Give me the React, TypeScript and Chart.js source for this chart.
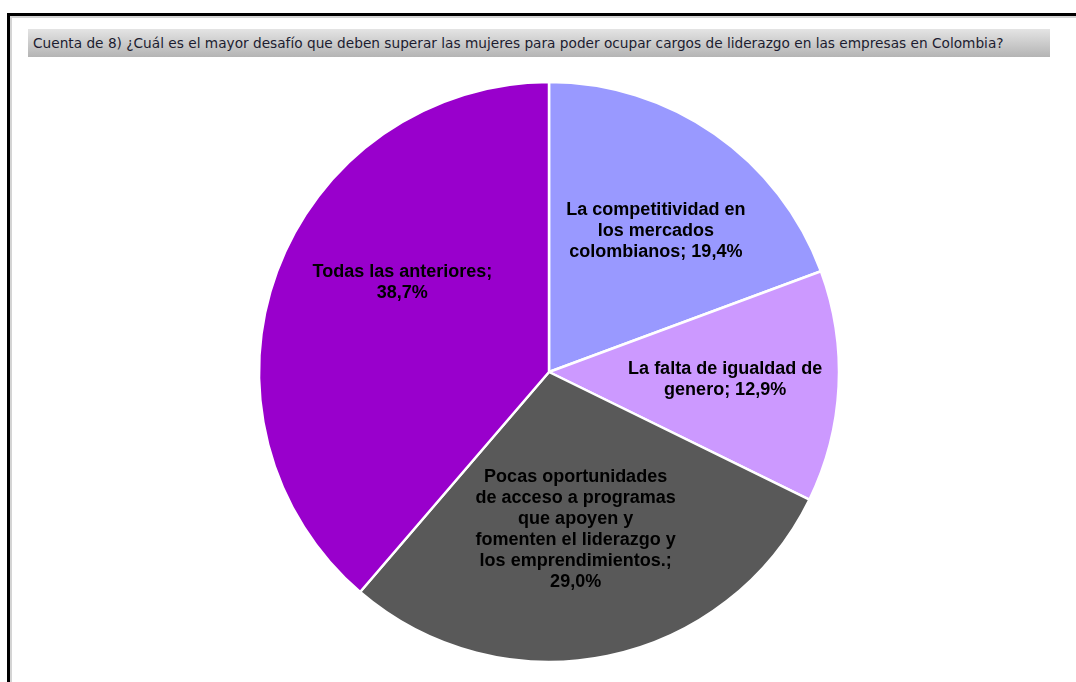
import React, { useEffect, useRef } from "react";
import { Chart, registerables } from "chart.js";

Chart.register(...registerables);

const TITLE =
  "Cuenta de 8) ¿Cuál es el mayor desafío que deben superar las mujeres para poder ocupar cargos de liderazgo en las empresas en Colombia?";

const categories = [
  "La competitividad en los mercados colombianos",
  "La falta de igualdad de genero",
  "Pocas oportunidades de acceso a programas que apoyen y fomenten el liderazgo y los emprendimientos.",
  "Todas las anteriores",
];
const counts = [6, 4, 9, 12];
const percentLabels = ["19,4%", "12,9%", "29,0%", "38,7%"];
const labelLines = [
  ["La competitividad en", "los mercados", "colombianos; 19,4%"],
  ["La falta de igualdad de", "genero; 12,9%"],
  [
    "Pocas oportunidades",
    "de acceso a programas",
    "que apoyen y",
    "fomenten el liderazgo y",
    "los emprendimientos.;",
    "29,0%",
  ],
  ["Todas las anteriores;", "38,7%"],
];
const sliceColors = ["#9999FF", "#CC99FF", "#595959", "#9900CC"];

// label layout (radius fraction, angle nudge in degrees)
const labelRadiusFrac = [0.609, 0.608, 0.55, 0.592];
const labelAngleNudge = [2.4, -0.3, 2.0, 11];

const labelPlugin = {
  id: "sliceLabels",
  afterDatasetsDraw(chart: any) {
    const ctx = chart.ctx;
    const meta = chart.getDatasetMeta(0);
    ctx.save();
    ctx.font = "bold 18px 'Liberation Sans', Arial, sans-serif";
    ctx.fillStyle = "#000000";
    ctx.textAlign = "center";
    ctx.textBaseline = "middle";
    try {
      (ctx as any).letterSpacing = "0px";
    } catch (e) {}
    meta.data.forEach((arc: any, i: number) => {
      const p = arc.getProps(["x", "y", "startAngle", "endAngle", "outerRadius"], true);
      const mid = (p.startAngle + p.endAngle) / 2 + (labelAngleNudge[i] * Math.PI) / 180;
      const r = p.outerRadius * labelRadiusFrac[i];
      const cx = p.x + Math.cos(mid) * r;
      const cy = p.y + Math.sin(mid) * r;
      const lines = labelLines[i];
      const lh = 21;
      const y0 = cy - ((lines.length - 1) * lh) / 2;
      lines.forEach((t, k) => ctx.fillText(t, cx, y0 + k * lh));
    });
    ctx.restore();
  },
};

export default function App() {
  const ref = useRef<HTMLCanvasElement | null>(null);
  useEffect(() => {
    if (!ref.current) return;
    const chart = new Chart(ref.current, {
      type: "pie",
      data: {
        labels: categories,
        datasets: [
          {
            data: counts,
            backgroundColor: sliceColors,
            borderColor: "#ffffff",
            borderWidth: 2.5,
          },
        ],
      },
      options: {
        responsive: false,
        animation: false,
        radius: 290,
        layout: { padding: { left: 22, right: 0, top: 62, bottom: 0 } },
        plugins: {
          legend: { display: false },
          tooltip: { enabled: false },
          title: { display: false },
        },
        events: [],
      } as any,
      plugins: [labelPlugin],
    });
    return () => chart.destroy();
  }, []);

  return (
    <div
      style={{
        position: "fixed",
        left: 0,
        top: 0,
        width: 1076,
        height: 682,
        overflow: "hidden",
        background: "#ffffff",
      }}
    >
      <div
        style={{
          position: "absolute",
          left: 7,
          top: 13,
          width: 1200,
          height: 800,
          borderLeft: "3px solid #000",
          borderTop: "3px solid #000",
        }}
      />
      <div
        style={{
          position: "absolute",
          left: 10,
          top: 16,
          width: 1200,
          height: 800,
          borderLeft: "2px solid #d4d4d4",
          borderTop: "2px solid #d4d4d4",
        }}
      />
      <div
        style={{
          position: "absolute",
          left: 28,
          top: 29,
          width: 1022,
          height: 28,
          background: "linear-gradient(#e4e4e4, #b4b4b4)",
          color: "#1c1c30",
          fontFamily: "'DejaVu Sans', sans-serif",
          fontSize: 13.7,
          lineHeight: "28px",
          paddingLeft: 5,
          boxSizing: "border-box",
          whiteSpace: "nowrap",
        }}
      >
        {TITLE}
      </div>
      <canvas
        ref={ref}
        width={1076}
        height={682}
        style={{ position: "absolute", left: 0, top: 0, width: 1076, height: 682 }}
      />
    </div>
  );
}
